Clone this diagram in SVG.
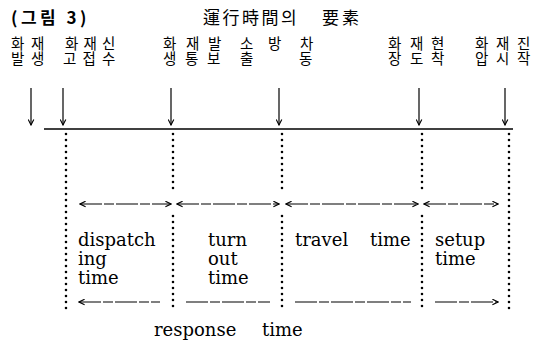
<svg xmlns="http://www.w3.org/2000/svg" width="558" height="349" viewBox="0 0 558 349">
<defs>
<marker id="ah" viewBox="0 0 10 10" refX="9" refY="5" markerWidth="7" markerHeight="7" orient="auto-start-reverse" markerUnits="userSpaceOnUse">
<path d="M1,1 L9,5 L1,9" fill="none" stroke="#000" stroke-width="1.6"/>
</marker>
<style>
.ko{font-family:"Noto Sans CJK KR",sans-serif;font-size:14.5px;fill:#000}
.ttl{font-family:"Noto Sans CJK KR",sans-serif;font-size:17px;fill:#000}
.en{font-family:"DejaVu Serif","Liberation Serif",serif;font-size:18px;fill:#000}
.va{stroke:#000;stroke-width:1.2;fill:none}
.base{stroke:#000;stroke-width:1.3;fill:none}
.dot{stroke:#000;stroke-width:2.6;stroke-linecap:round;stroke-dasharray:0 6;fill:none}
.ha{stroke:#000;stroke-width:1.2;fill:none;stroke-dasharray:22 2 10 2}
</style>
</defs>
<rect width="558" height="349" fill="#fff"/>
<g id="title">
<text class="ttl" x="11" y="24" font-size="16.5" font-weight="bold" letter-spacing="3.5">(그림 3)</text>
<text class="ttl" x="203 222.5 242 261.5 281" y="24">運行時間의</text>
<text class="ttl" x="322 342" y="24">要素</text>
</g>
<g id="n1"><text class="ko" x="11 31" y="49">화재</text><text class="ko" x="11 31" y="63.5">발생</text></g>
<g id="n2"><text class="ko" x="65 83.5 102" y="49">화재신</text><text class="ko" x="63 82.5 102" y="63.5">고접수</text></g>
<g id="n3"><text class="ko" x="163 186 208" y="49">화재발</text><text class="ko" x="163 185 207" y="63.5">생통보</text></g>
<g id="n4"><text class="ko" x="240 268 300" y="49">소방차</text><text class="ko" x="240" y="63.5">출</text><text class="ko" x="299" y="63.5">동</text></g>
<g id="n5"><text class="ko" x="388 410 431" y="49">화재현</text><text class="ko" x="388 410 431" y="63.5">장도착</text></g>
<g id="n6"><text class="ko" x="475 496 517" y="49">화재진</text><text class="ko" x="475 496 517" y="63.5">압시작</text></g>
<g id="dispatch"><text class="en" x="78" y="246">dispatch</text><text class="en" x="78" y="265">ing</text><text class="en" x="78" y="284">time</text></g>
<g id="turnout"><text class="en" x="208" y="246">turn</text><text class="en" x="208" y="265">out</text><text class="en" x="208" y="284">time</text></g>
<g id="travel"><text class="en" x="295" y="246">travel</text><text class="en" x="370" y="246">time</text></g>
<g id="setup"><text class="en" x="435" y="246">setup</text><text class="en" x="435" y="265">time</text></g>
<g id="response"><text class="en" x="154" y="336">response</text><text class="en" x="262" y="336">time</text></g>
<g id="connectors">
<line class="va" x1="31" y1="88" x2="31" y2="125" marker-end="url(#ah)"/>
<line class="va" x1="63" y1="88" x2="63" y2="125" marker-end="url(#ah)"/>
<line class="va" x1="171" y1="88" x2="171" y2="125" marker-end="url(#ah)"/>
<line class="va" x1="279" y1="88" x2="279" y2="125" marker-end="url(#ah)" stroke-width="1.6"/>
<line class="va" x1="419" y1="88" x2="419" y2="125" marker-end="url(#ah)"/>
<line class="va" x1="505" y1="88" x2="505" y2="125" marker-end="url(#ah)"/>
<line class="base" x1="44" y1="129" x2="513" y2="129"/>
<line class="dot" x1="66" y1="134" x2="66" y2="310"/>
<line class="dot" x1="173" y1="134" x2="173" y2="194"/>
<line class="dot" x1="173" y1="216" x2="173" y2="310"/>
<line class="dot" x1="282" y1="134" x2="282" y2="194"/>
<line class="dot" x1="282" y1="216" x2="282" y2="310"/>
<line class="dot" x1="422" y1="134" x2="422" y2="194"/>
<line class="dot" x1="422" y1="216" x2="422" y2="310"/>
<line class="dot" x1="509" y1="134" x2="509" y2="310"/>
<line class="ha" x1="80" y1="204" x2="171" y2="204" marker-start="url(#ah)" marker-end="url(#ah)"/>
<line class="ha" x1="177" y1="204" x2="279" y2="204" marker-start="url(#ah)" marker-end="url(#ah)"/>
<line class="ha" x1="286" y1="204" x2="418" y2="204" marker-start="url(#ah)" marker-end="url(#ah)"/>
<line class="ha" x1="424" y1="204" x2="498" y2="204" marker-start="url(#ah)" marker-end="url(#ah)"/>
<line class="ha" x1="79" y1="302" x2="160" y2="302" marker-start="url(#ah)"/>
<line class="ha" x1="186" y1="302" x2="270" y2="302"/>
<line class="ha" x1="295" y1="302" x2="411" y2="302"/>
<line class="ha" x1="435" y1="302" x2="498" y2="302" marker-end="url(#ah)"/>
</g>
</svg>
